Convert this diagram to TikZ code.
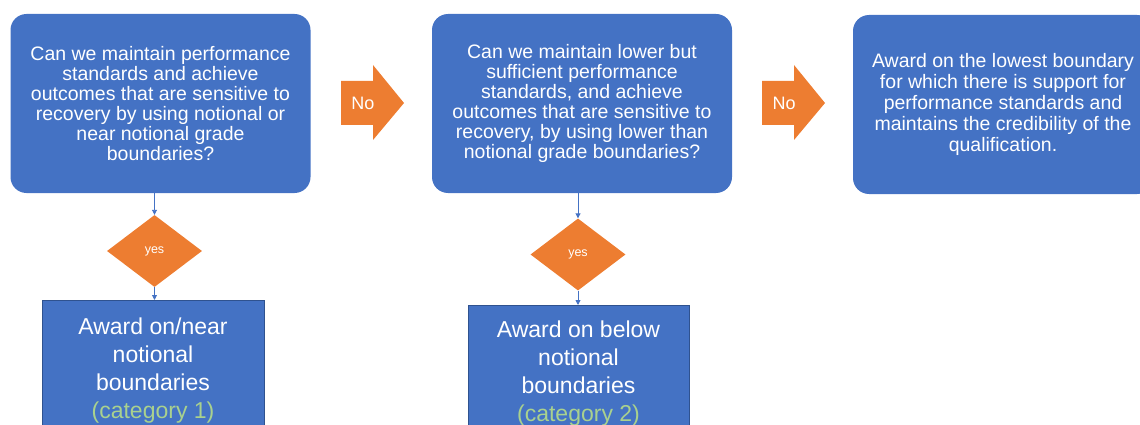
\documentclass[tikz,border=0pt]{standalone}
\usepackage{fontspec}
\setmainfont{Liberation Sans}
\usetikzlibrary{arrows.meta,shapes.geometric}
\definecolor{boxblue}{HTML}{4472C4}
\definecolor{edgeblue}{HTML}{2F528F}
\definecolor{choiceorange}{HTML}{ED7D31}
\definecolor{catgreen}{HTML}{A9D18E}

\begin{document}
\begin{tikzpicture}[x=1pt,y=-1pt,
    question/.style={rectangle, rounded corners=16pt, fill=boxblue, text=white,
                     minimum width=300pt, minimum height=179pt, inner sep=0pt,
                     align=center, font=\fontsize{19.5}{19.9}\selectfont},
    verdict/.style={rectangle, fill=boxblue, draw=edgeblue, line width=1pt,
                    text=white, anchor=north, align=center, inner sep=0pt,
                    font=\fontsize{23}{28.3}\selectfont},
    yesbox/.style={diamond, fill=choiceorange, text=white, inner sep=0pt,
                   minimum width=95pt, minimum height=72pt,
                   font=\fontsize{12.5}{14}\selectfont},
    nolbl/.style={text=white, inner sep=0pt, font=\fontsize{18}{20}\selectfont},
    link/.style={draw=boxblue, line width=0.9pt, -{Triangle[width=5pt,length=5pt]}}]

  \useasboundingbox (0,0) rectangle (1140,425);

  % -- the three questions along the top; the last one runs off the right edge
  \node[question] (qA) at (160.5,103.5)
    {Can we maintain performance\\ standards and achieve\\ outcomes that are sensitive to\\
     recovery by using notional or\\ near notional grade\\ boundaries?};
  \node[question] (qB) at (582,103.5)
    {Can we maintain lower but\\ sufficient performance\\ standards, and achieve\\
     outcomes that are sensitive to\\ recovery, by using lower than\\ notional grade boundaries?};
  \node[question, font=\fontsize{19.5}{21}\selectfont] (qC) at (1003,104.5)
    {Award on the lowest boundary\\ for which there is support for\\ performance standards and\\
     maintains the credibility of the\\ qualification.};

  % -- block arrows between the questions
  \foreach \x/\nm in {341/noA, 762/noB}{
    \begin{scope}[shift={(\x,0)}]
      \fill[choiceorange] (0,81) -- (32,81) -- (32,65) -- (63,103)
                          -- (32,140) -- (32,125) -- (0,125) -- cycle;
      \node[nolbl] (\nm) at (22,103) {No};
    \end{scope}}

  % -- yes branches
  \node[yesbox] (yA) at (154.5,251) {yes};
  \node[yesbox] (yB) at (578,254.5) {yes};

  \node[verdict, minimum width=222pt, minimum height=140pt] (cA) at (153,300)
    {Award on/near\\ notional\\ boundaries\\ \textcolor{catgreen}{(category 1)}};
  \node[verdict, minimum width=221pt, minimum height=136pt] (cB) at (578.5,305)
    {Award on below\\ notional\\ boundaries\\ \textcolor{catgreen}{(category 2)}};

  \draw[link] (yA.north |- qA.south) -- (yA.north);
  \draw[link] (yA.south) -- (yA.south |- cA.north);
  \draw[link] (yB.north |- qB.south) -- (yB.north);
  \draw[link] (yB.south) -- (yB.south |- cB.north);
\end{tikzpicture}
\end{document}
